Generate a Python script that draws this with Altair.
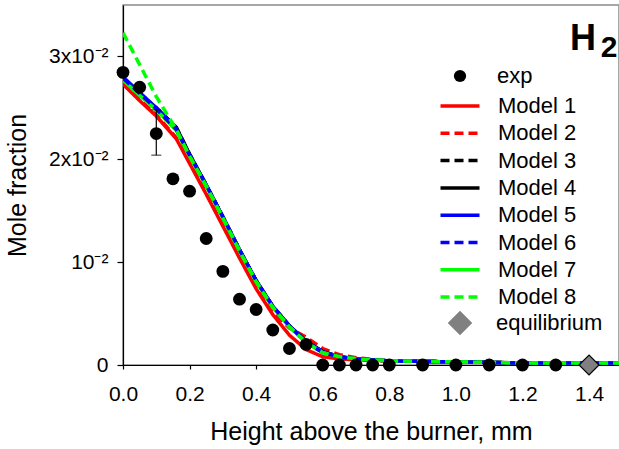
import altair as alt
import pandas as pd

# ---- experimental H2 mole fraction profile ----
exp_x = [0.0, 0.05, 0.10, 0.15, 0.20, 0.25, 0.30, 0.35, 0.40, 0.45, 0.50, 0.55,
         0.60, 0.65, 0.70, 0.75, 0.80, 0.90, 1.00, 1.10, 1.20, 1.30]
exp_y = [0.02845, 0.0270, 0.0225, 0.0181, 0.0169, 0.0123, 0.0091, 0.0064, 0.0054,
         0.0034, 0.0016, 0.0020, 0.0, 0.0, 0.0, 0.0, 0.0, 0.0, 0.0, 0.0, 0.0, 0.0]

# error bar on one measurement
err_x = [0.10]
err_lo = [0.0204]
err_hi = [0.0248]

# equilibrium value
eq_x = [1.4]
eq_y = [0.0]

# ---- model predictions ----
model_x = [0.0, 0.05, 0.10, 0.16, 0.20, 0.25, 0.30, 0.35, 0.40, 0.45, 0.50,
           0.55, 0.60, 0.65, 0.70, 0.80, 1.00, 1.20, 1.50]
model_1 = [0.0273, 0.0257, 0.0242, 0.0220, 0.0196, 0.0166, 0.0135, 0.0104, 0.0074,
           0.0049, 0.0029, 0.0015, 0.0008, 0.0006, 0.0005, 0.0004, 0.0003, 0.0002, 0.0002]
model_2 = [0.0274, 0.0258, 0.0243, 0.0221, 0.0197, 0.0167, 0.0136, 0.0105, 0.0076,
           0.0052, 0.0036, 0.0027, 0.0016, 0.0010, 0.0007, 0.0004, 0.0003, 0.0002, 0.0002]
model_3 = [0.0278, 0.0263, 0.0250, 0.0231, 0.0205, 0.0175, 0.0144, 0.0112, 0.0082,
           0.0057, 0.0038, 0.0023, 0.0013, 0.0008, 0.0006, 0.0004, 0.0003, 0.0002, 0.0002]
model_4 = [0.0278, 0.0263, 0.0250, 0.0231, 0.0205, 0.0175, 0.0144, 0.0112, 0.0082,
           0.0057, 0.0038, 0.0023, 0.0013, 0.0008, 0.0006, 0.0004, 0.0003, 0.0002, 0.0002]
model_5 = [0.0280, 0.0265, 0.0250, 0.0230, 0.0204, 0.0175, 0.0144, 0.0112, 0.0082,
           0.0057, 0.0038, 0.0023, 0.0013, 0.0008, 0.0006, 0.0004, 0.0003, 0.0002, 0.0002]
model_6 = [0.0279, 0.0264, 0.0249, 0.0229, 0.0204, 0.0175, 0.0144, 0.0112, 0.0082,
           0.0057, 0.0038, 0.0022, 0.0012, 0.0008, 0.0006, 0.0004, 0.0003, 0.0002, 0.0002]
model_7 = [0.0277, 0.0262, 0.0248, 0.0228, 0.0203, 0.0174, 0.0143, 0.0111, 0.0081,
           0.0056, 0.0037, 0.0022, 0.0012, 0.0008, 0.0006, 0.0004, 0.0003, 0.0002, 0.0002]
model_8 = [0.0323, 0.0292, 0.0261, 0.0229, 0.0203, 0.0174, 0.0143, 0.0111, 0.0081,
           0.0056, 0.0037, 0.0022, 0.0012, 0.0008, 0.0006, 0.0004, 0.0003, 0.0002, 0.0002]

models = ["Model 1", "Model 2", "Model 3", "Model 4",
          "Model 5", "Model 6", "Model 7", "Model 8"]
model_values = [model_1, model_2, model_3, model_4, model_5, model_6, model_7, model_8]
model_colors = ["#ff0000", "#ff0000", "#000000", "#000000",
                "#0000ff", "#0000ff", "#00ff00", "#00ff00"]
model_dashes = [[1, 0], [9, 5], [9, 5], [1, 0], [1, 0], [9, 5], [1, 0], [9, 5]]
# painting order of the curves (later ones on top)
draw_order = ["Model 1", "Model 2", "Model 3", "Model 4",
              "Model 5", "Model 7", "Model 6", "Model 8"]

x_ticks = [0.0, 0.2, 0.4, 0.6, 0.8, 1.0, 1.2, 1.4]
y_ticks = [0.0, 0.01, 0.02, 0.03]

FONT = "Liberation Sans"
LEGEND_FONT_SIZE = 22

lines_df = pd.DataFrame(
    [{"x": x, "y": y, "model": m}
     for m, vals in zip(models, model_values) for x, y in zip(model_x, vals)]
)
exp_df = pd.DataFrame({"x": exp_x, "y": exp_y, "kind": ["exp"] * len(exp_x)})
err_df = pd.DataFrame({"x": err_x, "lo": err_lo, "hi": err_hi})
cap_df = pd.DataFrame({"x": err_x * 2, "y": err_lo + err_hi})
eq_df = pd.DataFrame({"x": eq_x, "y": eq_y, "kind": ["equilibrium"]})

x_scale = alt.Scale(domain=[0, 1.49], nice=False, zero=False)
y_scale = alt.Scale(domain=[0, 0.035], nice=False)

x_enc = alt.X(
    "x:Q", scale=x_scale,
    axis=alt.Axis(
        values=x_ticks, format=".1f", title="Height above the burner, mm",
        grid=False, tickSize=4, labelPadding=14, titlePadding=15,
        labelFlush=False,
    ),
)
y_enc = alt.Y(
    "y:Q", scale=y_scale,
    axis=alt.Axis(
        values=y_ticks, title="Mole fraction", grid=False, tickSize=6,
        labelPadding=9, titlePadding=18, labelFlush=False,
        labelExpr=(
            "datum.value == 0 ? '0' : "
            "(round(datum.value * 100) == 1 ? '10\u207b\u00b2' : "
            "round(datum.value * 100) + 'x10\u207b\u00b2')"
        ),
    ),
)

line_legend = alt.Legend(
    title=None, orient="none", legendX=322, legendY=86, padding=0,
    symbolType="M-1.5,0L1.5,0", symbolSize=676, symbolStrokeWidth=3.5,
    labelFontSize=LEGEND_FONT_SIZE, labelFont=FONT, labelColor="black",
    rowPadding=1.3, labelOffset=23,
)

line_base = alt.Chart(lines_df).mark_line(strokeWidth=3.5, clip=True).encode(
    x=x_enc,
    y=y_enc,
    color=alt.Color("model:N", scale=alt.Scale(domain=models, range=model_colors),
                    legend=line_legend),
    strokeDash=alt.StrokeDash("model:N", scale=alt.Scale(domain=models, range=model_dashes),
                              legend=line_legend),
)
line_layers = [line_base.transform_filter(alt.datum.model == m) for m in draw_order]

err_rule = alt.Chart(err_df).mark_rule(color="black", strokeWidth=1.2).encode(
    x="x:Q", y="lo:Q", y2="hi:Q"
)
err_caps = alt.Chart(cap_df).mark_tick(
    color="black", orient="horizontal", size=10, thickness=1.2
).encode(x="x:Q", y="y:Q")

exp_points = alt.Chart(exp_df).mark_point(
    filled=True, size=165, color="black", opacity=1
).encode(
    x="x:Q", y="y:Q",
    shape=alt.Shape(
        "kind:N", scale=alt.Scale(domain=["exp"], range=["circle"]),
        legend=alt.Legend(
            title=None, orient="none", legendX=326, legendY=60, padding=0,
            symbolSize=150, symbolFillColor="black", symbolStrokeColor="black",
            symbolStrokeWidth=0, labelFontSize=LEGEND_FONT_SIZE, labelFont=FONT,
            labelColor="black", labelOffset=26,
        ),
    ),
)

eq_point = alt.Chart(eq_df).mark_point(
    filled=False, size=400, fill="#808080", stroke="black", strokeWidth=1.2,
    opacity=1, fillOpacity=1,
).encode(
    x="x:Q", y="y:Q",
    shape=alt.Shape(
        "kind:N", scale=alt.Scale(domain=["equilibrium"], range=["diamond"]),
        legend=alt.Legend(
            title=None, orient="none", legendX=324, legendY=305, padding=0,
            symbolSize=600, symbolFillColor="#808080", symbolStrokeColor="black",
            symbolStrokeWidth=1.2, labelFontSize=LEGEND_FONT_SIZE, labelFont=FONT,
            labelColor="black", labelOffset=23,
        ),
    ),
)

label_h = alt.Chart(pd.DataFrame({"t": ["H"]})).mark_text(
    font=FONT, fontSize=36, fontWeight="bold", color="black", align="center",
    baseline="alphabetic",
).encode(text="t:N", x=alt.value(460), y=alt.value(45))
label_2 = alt.Chart(pd.DataFrame({"t": ["2"]})).mark_text(
    font=FONT, fontSize=30, fontWeight="bold", color="black", align="center",
    baseline="alphabetic",
).encode(text="t:N", x=alt.value(486), y=alt.value(52))

chart = alt.layer(
    *line_layers, err_rule, err_caps, exp_points, eq_point, label_h, label_2
).resolve_scale(
    shape="independent"
).properties(
    width=496, height=360, background="white",
    autosize=alt.AutoSizeParams(type="none"),
    padding={"left": 123, "top": 5, "right": 0, "bottom": 84},
).configure_view(
    stroke="#8a8a8a", strokeWidth=1.5
).configure_axis(
    labelFont=FONT, titleFont=FONT, labelFontSize=21, titleFontSize=25,
    titleFontWeight="normal", labelColor="black", titleColor="black",
    domainColor="black", tickColor="black", domainWidth=1.2, tickWidth=1.2,
)

chart.save("out.html", embed_options={"renderer": "svg", "actions": False})
